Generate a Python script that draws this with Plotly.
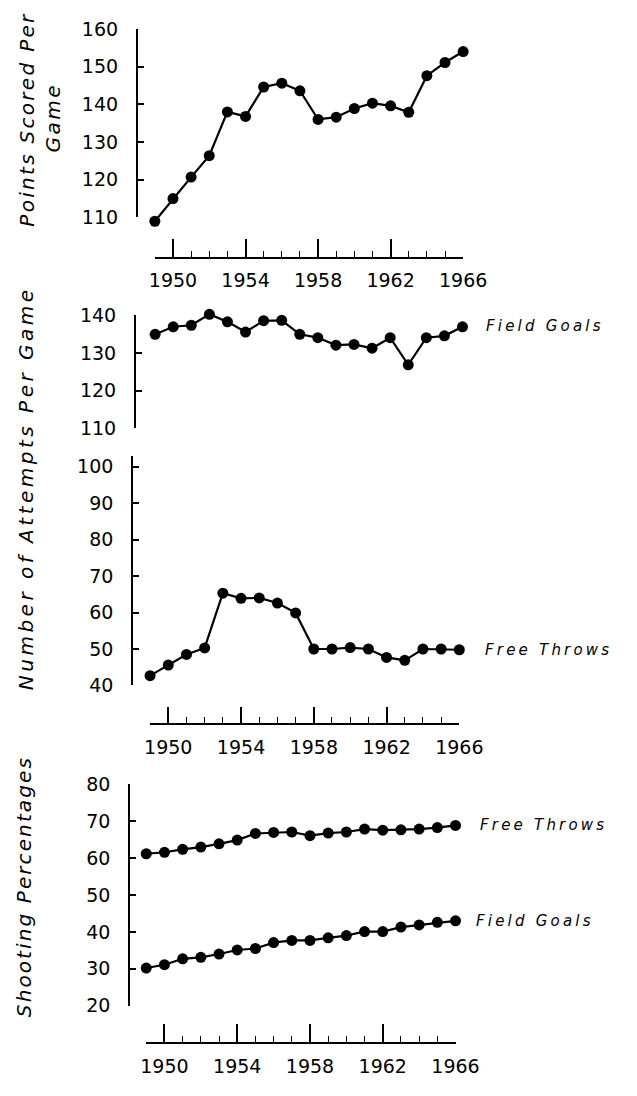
import plotly.graph_objects as go

# Season years and per-game NBA statistics
seasons = [1949, 1950, 1951, 1952, 1953, 1954, 1955, 1956, 1957,
           1958, 1959, 1960, 1961, 1962, 1963, 1964, 1965, 1966]
points_per_game = [109, 115, 120.7, 126.4, 138, 136.8, 144.6, 145.6, 143.6,
                   136, 136.6, 138.9, 140.3, 139.6, 137.9, 147.6, 151.1, 154]
fg_attempts = [135, 137, 137.4, 140.3, 138.3, 135.6, 138.6, 138.7, 135,
               134.1, 132.1, 132.3, 131.3, 134.1, 126.9, 134.1, 134.6, 137]
ft_attempts = [42.7, 45.6, 48.5, 50.3, 65.3, 63.9, 64, 62.6, 59.9,
               50, 50, 50.4, 50, 47.7, 46.9, 50, 50, 49.8]
ft_pct = [61.2, 61.6, 62.4, 63.0, 63.9, 64.9, 66.7, 67, 67.1,
          66.1, 66.8, 67.1, 67.9, 67.6, 67.7, 67.9, 68.3, 68.9]
fg_pct = [30.2, 31.1, 32.7, 33.1, 34, 35.1, 35.5, 37.1, 37.7,
          37.7, 38.4, 39, 40.1, 40.1, 41.3, 41.9, 42.6, 43]

year_labels = [1950, 1954, 1958, 1962, 1966]
pts_ticks = [110, 120, 130, 140, 150, 160]
fga_ticks = [110, 120, 130, 140]
fta_ticks = [40, 50, 60, 70, 80, 90, 100]
pct_ticks = [20, 30, 40, 50, 60, 70, 80]

W, H = 637, 1096
FONT = "DejaVu Sans"
INK = "black"


def fx(px):
    return px / W


def fy(py):
    return 1 - py / H


def line_trace(x, y, xa, ya):
    return go.Scatter(
        x=x, y=y, xaxis=xa, yaxis=ya, mode="lines+markers",
        line=dict(color=INK, width=2.2),
        marker=dict(color=INK, size=11),
        cliponaxis=False, showlegend=False, hoverinfo="x+y",
    )


def scale_holder(x, y, xa, ya):
    # transparent copy that keeps the visible scale axes attached to a subplot
    return go.Scatter(
        x=x, y=y, xaxis=xa, yaxis=ya, mode="lines", opacity=0,
        line=dict(width=0), showlegend=False, hoverinfo="skip",
    )


def year_ruler(left, right, base, major_len):
    """Floating year scale with long ticks every four seasons."""
    return dict(
        domain=[fx(left), fx(right)], range=[seasons[0], seasons[-1]],
        anchor="free", position=fy(base),
        showline=True, linecolor=INK, linewidth=1.6,
        ticks="inside", ticklen=major_len, tickwidth=1.6, tickcolor=INK,
        tickvals=year_labels, ticktext=[str(v) for v in year_labels],
        minor=dict(ticks="inside", ticklen=6, tickwidth=1.3, tickcolor=INK,
                   tickvals=seasons),
        showgrid=False, zeroline=False, ticklabelstandoff=6,
        tickfont=dict(family=FONT, size=19, color=INK),
    )


def value_axis(top, bottom, rng, ticks, xpos):
    """Visible vertical scale: line, inward ticks and labels."""
    return dict(
        domain=[fy(bottom), fy(top)], range=rng,
        anchor="free", position=fx(xpos),
        showline=True, linecolor=INK, linewidth=1.6,
        ticks="inside", ticklen=6, tickwidth=1.6, tickcolor=INK,
        tickvals=ticks, showgrid=False, zeroline=False,
        ticklabelstandoff=14,
        tickfont=dict(family=FONT, size=19, color=INK),
    )


def data_axis(top, bottom, rng, pad=15):
    """Hidden vertical axis on the same scale, padded so edge points stay drawn."""
    k = (bottom - top) / (rng[1] - rng[0])
    return dict(
        domain=[fy(bottom + pad), fy(top - pad)],
        range=[rng[0] - pad / k, rng[1] + pad / k],
        anchor="free", position=0, visible=False,
    )


PTS = (18.3, 210.7, [110, 160])
FGA = (310.7, 426, [110, 140])
FTA = (453.8, 688.3, [40, 103])
PCT = (789.3, 1015, [20, 80])

fig = go.Figure()
# scale axes
fig.add_trace(scale_holder(seasons, points_per_game, "x", "y"))
fig.add_trace(scale_holder(seasons, fg_attempts, "x2", "y2"))
fig.add_trace(scale_holder(seasons, ft_attempts, "x3", "y3"))
fig.add_trace(scale_holder(seasons, ft_pct, "x4", "y4"))
# data series
fig.add_trace(line_trace(seasons, points_per_game, "x", "y5"))
fig.add_trace(line_trace(seasons, fg_attempts, "x2", "y6"))
fig.add_trace(line_trace(seasons, ft_attempts, "x3", "y7"))
fig.add_trace(line_trace(seasons, ft_pct, "x4", "y8"))
fig.add_trace(line_trace(seasons, fg_pct, "x4", "y8"))

fig.update_layout(
    width=W, height=H, margin=dict(l=0, r=0, t=0, b=0),
    paper_bgcolor="white", plot_bgcolor="white", showlegend=False,
    # points scored per game
    xaxis=year_ruler(157, 480, 251.7, 18),
    yaxis=value_axis(PTS[0], PTS[1], PTS[2], pts_ticks, 138),
    yaxis5=data_axis(*PTS),
    # field goal attempts (upper part of the broken scale)
    xaxis2=dict(domain=[fx(157.3), fx(479.3)], range=[seasons[0], seasons[-1]],
                anchor="free", position=0, visible=False),
    yaxis2=value_axis(FGA[0], FGA[1], FGA[2], fga_ticks, 136),
    yaxis6=data_axis(*FGA),
    # free throw attempts (lower part of the broken scale)
    xaxis3=year_ruler(152, 476, 727.7, 16),
    yaxis3=value_axis(FTA[0], FTA[1], FTA[2], fta_ticks, 133),
    yaxis7=data_axis(*FTA),
    # shooting percentages
    xaxis4=year_ruler(148, 472, 1053.3, 18),
    yaxis4=value_axis(PCT[0], PCT[1], PCT[2], pct_ticks, 130),
    yaxis8=data_axis(*PCT),
)


def spaced(text, spacing):
    return f'<span style="letter-spacing:{spacing}px">{text}</span>'


def add_title(text, xc, yc, spacing):
    fig.add_annotation(
        text=spaced(text, spacing), xref="paper", yref="paper",
        x=fx(xc), y=fy(yc), xanchor="center", yanchor="middle",
        textangle=-90, showarrow=False,
        font=dict(family=FONT, size=20, color=INK, style="italic"),
    )


def add_series_label(text, xc, yc):
    fig.add_annotation(
        text=spaced(text, 3.2), xref="paper", yref="paper",
        x=fx(xc), y=fy(yc), xanchor="center", yanchor="middle",
        showarrow=False,
        font=dict(family=FONT, size=15, color=INK, style="italic"),
    )


add_title("Points Scored Per", 23, 111, 2.3)
add_title("Game", 50, 109, 2.5)
add_title("Number of Attempts Per Game", 22, 487, 3.5)
add_title("Shooting Percentages", 20, 894, 2.1)

add_series_label("Field Goals", 566, 321.7)
add_series_label("Free Throws", 569, 652)
add_series_label("Free Throws", 564, 831)
add_series_label("Field Goals", 555, 929)

fig.write_html("out.html")
